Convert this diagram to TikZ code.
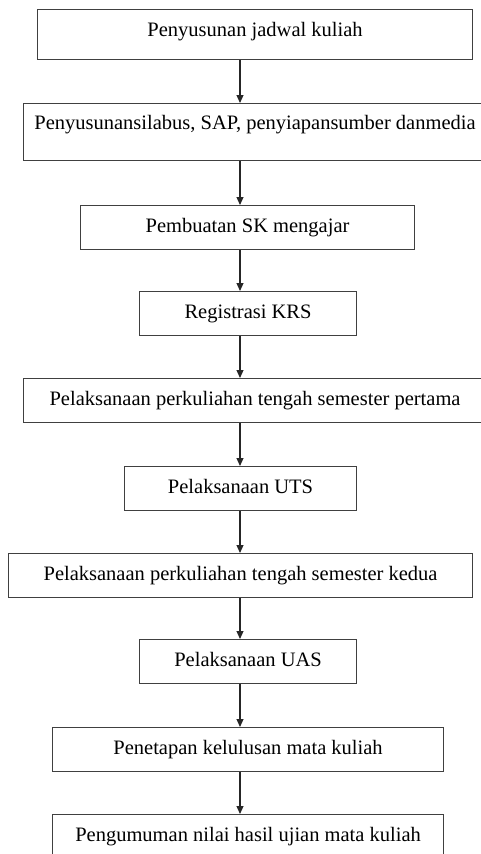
\documentclass[tikz,border=0pt]{standalone}
\usepackage{fontspec}
\setmainfont{Liberation Serif}
\usetikzlibrary{arrows.meta,positioning}

\begin{document}
\begin{tikzpicture}[x=1pt,y=-1pt,
    box/.style={rectangle, draw=black!75, line width=1.1pt, anchor=north west, inner sep=0pt,
        minimum height=44pt, text height=15pt, text depth=5pt, font=\fontsize{20.5}{24}\selectfont},
    link/.style={-{Triangle[length=8pt,width=7pt]}, line width=1.1pt, draw=black!85}]

    \clip (0,0) rectangle (481,854);
    \coordinate (axis) at (240,0);

    % first two steps
    \node[box, minimum width=435pt, minimum height=50pt, text depth=12pt] (b1) at (37,9) {Penyusunan jadwal kuliah};
    \node[box, minimum width=463pt, minimum height=57pt, text height=20pt, text depth=25pt, inner ysep=6pt] (b2) at (23,103)
        {Penyusunansilabus, SAP, penyiapansumber danmedia};

    % remaining steps
    \foreach \n/\x/\y/\w/\txt in {
        b3/80/205/334/{Pembuatan SK mengajar},
        b4/139/291/217/{Registrasi KRS},
        b5/23/378/463/{Pelaksanaan perkuliahan tengah semester pertama},
        b6/124/466/232/{Pelaksanaan UTS},
        b7/8/553/464/{Pelaksanaan perkuliahan tengah semester kedua},
        b8/139/639/217/{Pelaksanaan UAS},
        b9/52/727/391/{Penetapan kelulusan mata kuliah},
        b10/52/814/391/{Pengumuman nilai hasil ujian mata kuliah}}{
        \node[box, minimum width=\w pt] (\n) at (\x,\y) {\txt};
    }

    \foreach \s/\d in {b1/b2, b2/b3, b3/b4, b4/b5, b5/b6, b6/b7, b7/b8, b8/b9, b9/b10}{
        \draw[link] (\s.south -| axis) -- (\d.north -| axis);
    }
\end{tikzpicture}
\end{document}
